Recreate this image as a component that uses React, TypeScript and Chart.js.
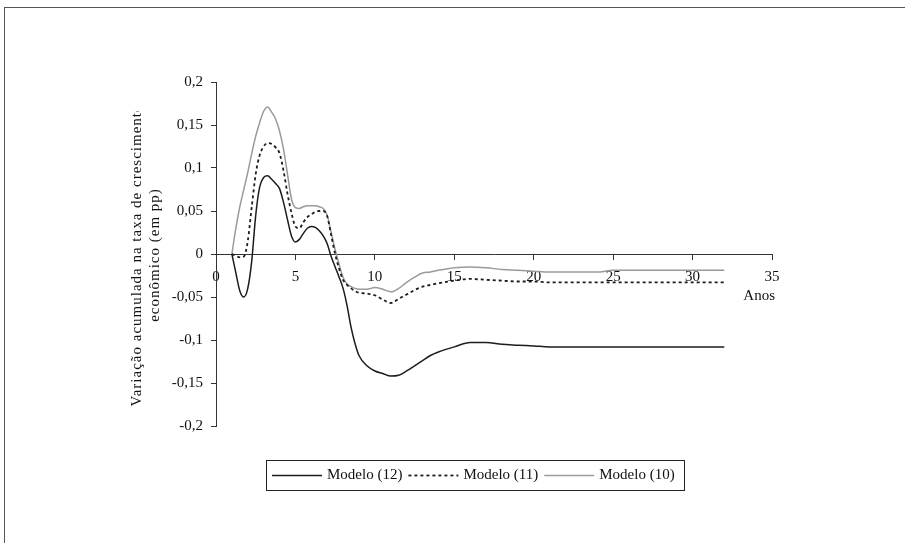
import React, { useEffect, useRef } from "react";
import { Chart, registerables } from "chart.js";

Chart.register(...registerables);

const years = [1, 1.25, 1.5, 1.75, 2, 2.25, 2.5, 2.75, 3, 3.25, 3.5, 3.75, 4, 4.25, 4.5, 4.75, 5, 5.25, 5.5, 5.75, 6, 6.25, 6.5, 6.75, 7, 7.25, 7.5, 7.75, 8, 8.25, 8.5, 8.75, 9, 9.5, 10, 10.5, 11, 11.5, 12, 12.5, 13, 13.5, 14, 15, 16, 17, 18, 19, 20, 21, 22, 23, 24, 25, 26, 27, 28, 29, 30, 31, 32];

const modelo12 = [0, -0.022, -0.043, -0.05, -0.04, -0.008, 0.045, 0.078, 0.089, 0.091,
  0.087, 0.082, 0.076, 0.06, 0.04, 0.021, 0.014, 0.017, 0.024, 0.03,
  0.032, 0.031, 0.027, 0.021, 0.012, -0.003, -0.015, -0.027, -0.04, -0.06,
  -0.085, -0.104, -0.118, -0.13, -0.136, -0.139, -0.142, -0.141, -0.136, -0.13,
  -0.124, -0.118, -0.114, -0.108, -0.103, -0.103, -0.105, -0.106, -0.107, -0.108,
  -0.108, -0.108, -0.108, -0.108, -0.108, -0.108, -0.108, -0.108, -0.108, -0.108, -0.108];

const modelo11 = [0, -0.002, -0.004, -0.003, 0.015, 0.055, 0.093, 0.115, 0.125, 0.129,
  0.128, 0.124, 0.117, 0.097, 0.07, 0.048, 0.032, 0.03, 0.037, 0.043,
  0.046, 0.049, 0.05, 0.05, 0.044, 0.022, 0.0, -0.017, -0.03, -0.036,
  -0.04, -0.043, -0.045, -0.046, -0.048, -0.053, -0.057, -0.052, -0.047, -0.042,
  -0.038, -0.036, -0.034, -0.031, -0.029, -0.03, -0.031, -0.032, -0.032, -0.033,
  -0.033, -0.033, -0.033, -0.033, -0.033, -0.033, -0.033, -0.033, -0.033, -0.033, -0.033];

const modelo10 = [0, 0.03, 0.055, 0.075, 0.095, 0.117, 0.137, 0.153, 0.166, 0.171,
  0.165, 0.157, 0.143, 0.122, 0.093, 0.064, 0.054, 0.053, 0.055, 0.056,
  0.056, 0.056, 0.055, 0.053, 0.045, 0.025, 0.005, -0.012, -0.027, -0.035,
  -0.038, -0.04, -0.041, -0.041, -0.039, -0.041, -0.044, -0.04, -0.033, -0.027,
  -0.022, -0.021, -0.019, -0.016, -0.015, -0.016, -0.018, -0.019, -0.02, -0.021,
  -0.021, -0.021, -0.021, -0.019, -0.019, -0.019, -0.019, -0.019, -0.019, -0.019, -0.019];

const seriesNames = ["Modelo (12)", "Modelo (11)", "Modelo (10)"];
const yTitleLines = ["Variação acumulada na taxa de crescimento", "econômico (em pp)"];
const xTitle = "Anos";
const xMin = 0, xMax = 35, xStep = 5;
const yMin = -0.2, yMax = 0.2, yStep = 0.05;

const FONT = '"Liberation Serif", "DejaVu Serif", serif';

const overlay = {
  id: "overlay",
  afterDraw(chart: any) {
    const ctx = chart.ctx as CanvasRenderingContext2D;
    const xs = chart.scales.x;
    const ys = chart.scales.y;
    ctx.save();
    ctx.fillStyle = "#111";
    ctx.font = `15px ${FONT}`;
    ctx.textAlign = "right";
    ctx.textBaseline = "middle";
    ctx.fillText(xTitle, xs.getPixelForValue(xMax) + 3, ys.getPixelForValue(0) + 42);
    ctx.restore();

    // y title (clipped at the top like the original)
    ctx.save();
    ctx.beginPath();
    ctx.rect(0, 111, 214, 432);
    ctx.clip();
    ctx.translate(137, 255);
    ctx.rotate(-Math.PI / 2);
    ctx.fillStyle = "#111";
    ctx.font = `15px ${FONT}`;
    (ctx as any).letterSpacing = "1px";
    ctx.textAlign = "center";
    ctx.textBaseline = "middle";
    ctx.fillText(yTitleLines[0], 0, 0);
    ctx.fillText(yTitleLines[1], 0, 18);
    ctx.restore();

    // legend box
    ctx.save();
    ctx.strokeStyle = "#222";
    ctx.lineWidth = 1;
    ctx.strokeRect(266.5, 460.5, 418, 30);
    ctx.font = `15px ${FONT}`;
    ctx.textBaseline = "middle";
    ctx.textAlign = "left";
    let lx = 272;
    const ly = 475.5;
    chart.data.datasets.forEach((ds: any) => {
      ctx.beginPath();
      ctx.strokeStyle = ds.borderColor;
      ctx.lineWidth = ds.borderWidth;
      ctx.setLineDash(ds.borderDash || []);
      ctx.moveTo(lx, ly);
      ctx.lineTo(lx + 50, ly);
      ctx.stroke();
      ctx.setLineDash([]);
      ctx.fillStyle = "#111";
      ctx.fillText(ds.label, lx + 55, ly);
      lx += 55 + ctx.measureText(ds.label).width + 6;
    });
    ctx.restore();
  },
};

export default function App() {
  const ref = useRef<HTMLCanvasElement | null>(null);
  useEffect(() => {
    if (!ref.current) return;
    const mk = (ys: number[]) => years.map((x, i) => ({ x, y: ys[i] }));
    const chart = new Chart(ref.current, {
      type: "line",
      data: {
        datasets: [
          { label: seriesNames[0], data: mk(modelo12), borderColor: "#1c1c1c", borderWidth: 1.5, pointRadius: 0, cubicInterpolationMode: "monotone", fill: false },
          { label: seriesNames[1], data: mk(modelo11), borderColor: "#1c1c1c", borderWidth: 1.8, borderDash: [3, 3], pointRadius: 0, cubicInterpolationMode: "monotone", fill: false },
          { label: seriesNames[2], data: mk(modelo10), borderColor: "#9a9a9a", borderWidth: 1.5, pointRadius: 0, cubicInterpolationMode: "monotone", fill: false },
        ],
      },
      options: {
        responsive: false,
        animation: false,
        devicePixelRatio: 1,
        layout: { padding: { left: 0, top: 82, right: 133, bottom: 117 } },
        plugins: { legend: { display: false }, tooltip: { enabled: false } },
        scales: {
          x: {
            type: "linear",
            position: { y: 0 } as any,
            min: xMin,
            max: xMax,
            ticks: { stepSize: xStep, font: { family: FONT, size: 15 }, color: "#111", padding: 9, maxRotation: 0 },
            grid: { drawOnChartArea: false, drawTicks: true, tickLength: 5, color: "#333" },
            border: { display: true, color: "#333", width: 1 },
          },
          y: {
            type: "linear",
            position: "left",
            min: yMin,
            max: yMax,
            afterFit: (s: any) => { s.width = 216; },
            ticks: {
              stepSize: yStep,
              font: { family: FONT, size: 15 },
              color: "#111",
              padding: 8,
              callback: (v: any) => String(Math.round(Number(v) * 100) / 100).replace(".", ","),
            },
            grid: { drawOnChartArea: false, drawTicks: true, tickLength: 5, color: "#333" },
            border: { display: true, color: "#333", width: 1 },
          },
        },
      },
      plugins: [overlay],
    } as any);
    return () => chart.destroy();
  }, []);
  return (
    <div style={{ position: "fixed", left: 0, top: 0, width: 905, height: 543, background: "#fff", overflow: "hidden" }}>
      <div style={{ position: "absolute", left: 4, top: 7, width: 1000, height: 1000, borderLeft: "1px solid #555", borderTop: "1px solid #555" }} />
      <canvas ref={ref} width={905} height={543} style={{ position: "absolute", left: 0, top: 0, width: 905, height: 543 }} />
    </div>
  );
}
